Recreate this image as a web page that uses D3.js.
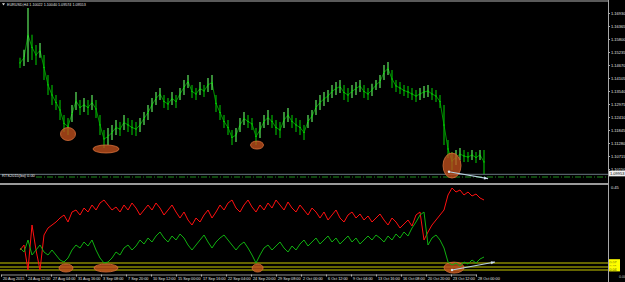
<!DOCTYPE html>
<html><head><meta charset="utf-8">
<script src="https://cdn.jsdelivr.net/npm/d3@7"></script>
<style>html,body{margin:0;padding:0;background:#000;}svg{display:block;}</style>
</head><body><svg id="c" width="625" height="282"></svg>
<script>
// ---- data (EURUSD H4) ----
const barHigh = [1.1498,1.1533,1.1715,1.1598,1.1554,1.1563,1.1511,1.1424,1.1380,1.1337,
1.1315,1.1250,1.1237,1.1293,1.1350,1.1315,1.1324,1.1315,1.1337,1.1315,
1.1250,1.1185,1.1193,1.1206,1.1228,1.1219,1.1250,1.1237,1.1228,1.1219,
1.1237,1.1263,1.1293,1.1324,1.1350,1.1367,1.1337,1.1324,1.1350,1.1337,
1.1367,1.1402,1.1424,1.1380,1.1367,1.1393,1.1380,1.1411,1.1424,1.1337,
1.1293,1.1250,1.1228,1.1185,1.1193,1.1237,1.1263,1.1250,1.1237,1.1193,
1.1219,1.1250,1.1271,1.1250,1.1228,1.1219,1.1263,1.1280,1.1250,1.1237,
1.1228,1.1206,1.1250,1.1271,1.1315,1.1337,1.1350,1.1358,1.1380,1.1393,
1.1402,1.1380,1.1367,1.1380,1.1393,1.1402,1.1380,1.1367,1.1385,1.1402,
1.1424,1.1467,1.1480,1.1445,1.1402,1.1393,1.1380,1.1376,1.1367,1.1358,
1.1367,1.1376,1.1380,1.1367,1.1358,1.1337,1.1293,1.1141,1.1089,1.1098,
1.1106,1.1098,1.1089,1.1098,1.1089,1.1098,1.1098];
const barLow = [1.1454,1.1463,1.1480,1.1489,1.1467,1.1498,1.1402,1.1337,1.1293,1.1271,
1.1228,1.1176,1.1163,1.1219,1.1271,1.1250,1.1263,1.1250,1.1271,1.1237,
1.1163,1.1106,1.1119,1.1141,1.1163,1.1158,1.1185,1.1176,1.1163,1.1158,
1.1176,1.1206,1.1228,1.1263,1.1293,1.1315,1.1280,1.1271,1.1293,1.1280,
1.1315,1.1337,1.1367,1.1324,1.1315,1.1337,1.1328,1.1350,1.1358,1.1263,
1.1228,1.1193,1.1163,1.1119,1.1132,1.1176,1.1206,1.1193,1.1185,1.1119,
1.1150,1.1193,1.1206,1.1193,1.1163,1.1150,1.1193,1.1219,1.1193,1.1176,
1.1163,1.1141,1.1193,1.1219,1.1250,1.1271,1.1289,1.1306,1.1324,1.1337,
1.1345,1.1315,1.1306,1.1324,1.1337,1.1350,1.1324,1.1315,1.1332,1.1358,
1.1367,1.1402,1.1424,1.1367,1.1350,1.1341,1.1332,1.1324,1.1315,1.1306,
1.1315,1.1324,1.1328,1.1315,1.1306,1.1280,1.1119,1.1063,1.1011,1.1032,
1.1054,1.1045,1.1045,1.1054,1.1041,1.1054,1.0993];
const redLine = [.135,.160,.035,.260,.135,.035,.210,.245,.260,.275,
.295,.310,.275,.325,.335,.310,.345,.325,.360,.335,
.370,.385,.360,.335,.350,.325,.360,.335,.370,.345,
.310,.335,.360,.335,.370,.345,.310,.335,.360,.325,
.295,.325,.285,.260,.295,.275,.310,.335,.295,.325,
.360,.335,.370,.385,.345,.325,.360,.385,.350,.325,
.360,.335,.370,.345,.385,.360,.335,.375,.345,.325,
.360,.335,.310,.345,.325,.295,.325,.285,.310,.335,
.295,.275,.310,.325,.295,.315,.285,.305,.275,.295,
.315,.285,.260,.295,.275,.245,.265,.285,.255,.310,
.325,.185,.225,.260,.285,.310,.335,.410,.445,.425,
.435,.410,.425,.405,.415,.395,.385];
const greenLine = [.145,.125,.185,.110,.135,.160,.125,.110,.135,.110,
.085,.075,.095,.135,.160,.145,.175,.155,.185,.135,
.095,.070,.075,.095,.125,.110,.145,.160,.135,.155,
.185,.165,.195,.175,.205,.225,.195,.175,.205,.185,
.215,.195,.160,.135,.160,.185,.210,.175,.145,.175,
.195,.210,.185,.160,.135,.160,.175,.145,.110,.070,
.110,.145,.160,.135,.155,.175,.145,.125,.155,.135,
.165,.185,.155,.175,.195,.165,.185,.205,.175,.195,
.165,.185,.205,.175,.195,.165,.185,.205,.185,.210,
.195,.175,.205,.185,.215,.195,.225,.205,.245,.275,
.310,.325,.160,.195,.210,.185,.145,.075,.060,.070,
.055,.075,.065,.085,.070,.090,.100];
const priceTicks = [1.16930,1.16365,1.15800,1.15235,1.14670,1.14105,1.13540,1.12975,1.12410,1.11845,1.11280,1.10715,1.10150];
const currentPrice = 1.09953;
const dateLabels = ["20 Aug 2015","24 Aug 12:00","27 Aug 04:00","31 Aug 16:00","3 Sep 08:00","7 Sep 20:00","10 Sep 12:00","15 Sep 00:00","17 Sep 16:00","22 Sep 04:00","24 Sep 20:00","29 Sep 08:00","2 Oct 00:00","6 Oct 12:00","9 Oct 04:00","13 Oct 16:00","16 Oct 08:00","20 Oct 20:00","23 Oct 12:00","28 Oct 00:00"];
const levels = [0.07, 0.05, 0.035];
const indTicks = [0.45];
const title = "EURUSD,H4 1.10022 1.10040 1.09574 1.09553";
const subLabel = "RTS2015(bo) 0.00";
const priceEllipses = [{bar:12,price:1.1167,rx:7.5,ry:6.5},{bar:21.5,price:1.1102,rx:13,ry:4},{bar:59.25,price:1.1119,rx:6.5,ry:4},{bar:108,price:1.1030,rx:9,ry:12.5}];
const indEllipses = [{bar:11.5,val:0.045,rx:7,ry:4},{bar:21.5,val:0.045,rx:12,ry:4},{bar:59.4,val:0.045,rx:5.5,ry:4},{bar:108.5,val:0.047,rx:10,ry:5.5}];
const priceArrow = {from:[107.25,1.1003], to:[117,1.0973]};
const indArrow = {from:[108,0.035], to:[118.75,0.075]};

// ---- drawing ----
const W = 625, H = 282, axisX = 608;
const svg = d3.select("#c");
const font = "'Liberation Sans', Arial, sans-serif";
const N = barHigh.length;
const x = d3.scaleLinear().domain([0, N - 1]).range([20, 484]);
const yP = d3.scaleLinear().domain([1.10150, 1.16930]).range([169, 13]);
const yI = d3.scaleLinear().domain([0, 0.45]).range([277, 187]);
const xD = d3.scalePoint().domain(dateLabels).range([1, 476]);

function tiny(g, px, py, str, size, fill, anchor){
  return g.append("text").attr("transform",`translate(${px},${py}) scale(${size/10})`)
    .attr("font-size",10).attr("font-family",font).attr("fill",fill)
    .attr("text-anchor",anchor||"start").text(str);
}

svg.append("rect").attr("width", W).attr("height", H).attr("fill", "#000");
svg.append("line").attr("x1",0).attr("x2",axisX).attr("y1",1).attr("y2",1).attr("stroke","#5a5a5a").attr("stroke-width",2);

// price bars
const mids = barHigh.map((h,i)=>(h+barLow[i])/2);
const upper = svg.append("g");
upper.append("path").datum(mids)
  .attr("d", d3.line().x((d,i)=>x(i)).y(d=>yP(d)))
  .attr("fill","none").attr("stroke","#00a000").attr("stroke-width",0.9);
upper.selectAll("line.bar").data(barHigh).join("line").attr("class","bar")
  .attr("x1",(d,i)=>x(i)).attr("x2",(d,i)=>x(i))
  .attr("y1",d=>yP(d)).attr("y2",(d,i)=>yP(barLow[i]))
  .attr("stroke",(d,i)=> i>0 && mids[i] >= mids[i-1] ? "#66ff66" : "#00c000")
  .attr("stroke-width",1.1);
upper.selectAll("line.tk").data(mids).join("line").attr("class","tk")
  .attr("x1",(d,i)=>x(i)-1).attr("x2",(d,i)=>x(i)+1)
  .attr("y1",d=>yP(d)).attr("y2",d=>yP(d))
  .attr("stroke","#00d000").attr("stroke-width",0.8);

svg.append("line").attr("x1",0).attr("x2",axisX).attr("y1",174.3).attr("y2",174.3).attr("stroke","#6c7884").attr("stroke-width",1);
svg.append("line").attr("x1",36).attr("x2",axisX).attr("y1",177).attr("y2",177).attr("stroke","#1c8a1c").attr("stroke-width",1).attr("stroke-dasharray","6,2,1,2");
svg.append("line").attr("x1",0).attr("x2",axisX).attr("y1",184).attr("y2",184).attr("stroke","#9a9a9a").attr("stroke-width",2);
tiny(svg, 2, 177, subLabel, 4, "#e8e8e8");

svg.append("g").selectAll("ellipse").data(priceEllipses).join("ellipse")
  .attr("cx",d=>x(d.bar)).attr("cy",d=>yP(d.price)).attr("rx",d=>d.rx).attr("ry",d=>d.ry)
  .attr("fill","#c0501c").attr("fill-opacity",0.78).attr("stroke","#d8703a").attr("stroke-width",0.8);

function arrow(g, a, ys){
  const x1=x(a.from[0]), y1=ys(a.from[1]), x2=x(a.to[0]), y2=ys(a.to[1]);
  g.append("line").attr("x1",x1).attr("y1",y1).attr("x2",x2).attr("y2",y2).attr("stroke","#b8d0e0").attr("stroke-width",1.1);
  g.append("circle").attr("cx",x1).attr("cy",y1).attr("r",1.2).attr("fill","#e0e8f0");
  const ang=Math.atan2(y2-y1,x2-x1);
  const p=[[x2,y2],[x2-4*Math.cos(ang)+1.6*Math.sin(ang), y2-4*Math.sin(ang)-1.6*Math.cos(ang)],[x2-4*Math.cos(ang)-1.6*Math.sin(ang), y2-4*Math.sin(ang)+1.6*Math.cos(ang)]];
  g.append("path").attr("d","M"+p.map(q=>q.join(",")).join("L")+"Z").attr("fill","#d0e0ee");
}
arrow(svg.append("g"), priceArrow, yP);

const lower = svg.append("g");
lower.selectAll("line.lvl").data(levels).join("line").attr("class","lvl")
  .attr("x1",0).attr("x2",axisX).attr("y1",d=>yI(d)).attr("y2",d=>yI(d))
  .attr("stroke","#c8c800").attr("stroke-width",1);
lower.selectAll("ellipse").data(indEllipses).join("ellipse")
  .attr("cx",d=>x(d.bar)).attr("cy",d=>yI(d.val)).attr("rx",d=>d.rx).attr("ry",d=>d.ry)
  .attr("fill","#c0501c").attr("fill-opacity",0.8).attr("stroke","#d8703a").attr("stroke-width",0.8);
lower.append("path").datum(redLine).attr("d", d3.line().x((d,i)=>x(i)).y(d=>yI(d)))
  .attr("fill","none").attr("stroke","#ff1010").attr("stroke-width",1);
lower.append("path").datum(greenLine).attr("d", d3.line().x((d,i)=>x(i)).y(d=>yI(d)))
  .attr("fill","none").attr("stroke","#10b010").attr("stroke-width",1);
arrow(lower, indArrow, yI);

const ra = svg.append("g").attr("transform",`translate(${axisX},0)`)
  .call(d3.axisRight(yP).tickValues(priceTicks).tickSize(2).tickPadding(1).tickFormat(d3.format(".5f")));
ra.select(".domain").remove();
ra.selectAll("line").attr("stroke","#b0b0b0");
ra.selectAll(".tick text").attr("x",null).attr("dy",null)
  .attr("transform","translate(3,1.4) scale(0.4)").attr("font-size",10)
  .attr("fill","#e0e0e0").attr("font-family",font);
svg.append("line").attr("x1",axisX+0.5).attr("x2",axisX+0.5).attr("y1",0).attr("y2",H).attr("stroke","#a8a8a8").attr("stroke-width",1);
svg.append("rect").attr("x",axisX+1).attr("y",yP(currentPrice)-2.8).attr("width",16).attr("height",5.6).attr("fill","#f0f0f0");
tiny(svg, axisX+2, yP(currentPrice)+1.5, d3.format(".5f")(currentPrice), 4, "#000");
indTicks.forEach(v => tiny(svg, axisX+3, yI(v)+1.5, v.toFixed(2), 4, "#e0e0e0"));
levels.forEach((v,k) => {
  svg.append("rect").attr("x",axisX+1).attr("y",yI(v)-3.8).attr("width",11).attr("height",5.2).attr("fill","#ffff00");
  tiny(svg, axisX+1.5, yI(v)+1, v.toFixed(2), 3.6, "#505000");
});
tiny(svg, axisX+11, 278, "0.00", 3.6, "#c0c0c0");

const ba = svg.append("g").attr("transform","translate(0,274.5)")
  .call(d3.axisBottom(xD).tickSize(2).tickPadding(1));
ba.select(".domain").attr("stroke","#909090");
ba.selectAll("line").attr("stroke","#b0b0b0");
ba.selectAll(".tick text").attr("y",null).attr("dy",null)
  .attr("transform","translate(1.5,5.9) scale(0.38)").attr("font-size",10)
  .attr("fill","#e0e0e0").attr("font-family",font).attr("text-anchor","start");

svg.append("path").attr("d","M2,3.2L5,3.2L3.5,5.6Z").attr("fill","#e0e0e0");
tiny(svg, 7, 5.8, title, 3.7, "#e0e0e0");
</script></body></html>
